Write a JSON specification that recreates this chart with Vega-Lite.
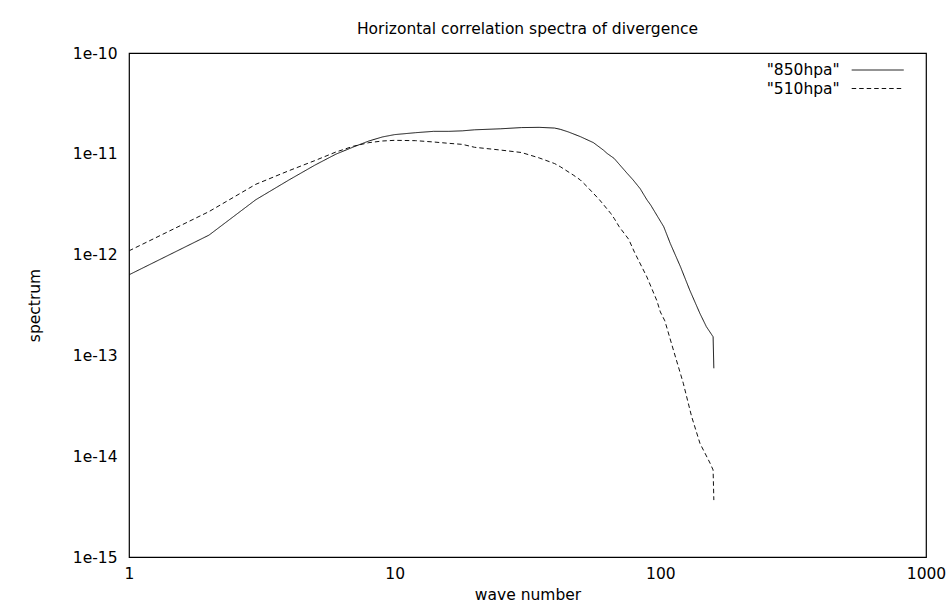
{
  "$schema": "https://vega.github.io/schema/vega-lite/v6.json",
  "width": 797,
  "height": 504,
  "autosize": {"type": "none"},
  "padding": {"left": 129, "top": 53, "right": 24, "bottom": 54},
  "background": "#ffffff",
  "title": {"text": "Horizontal correlation spectra of divergence", "frame": "group", "anchor": "middle", "offset": 9, "font": "DejaVu Sans", "fontSize": 15.5, "fontWeight": "normal", "color": "#000000"},
  "data": {"values": [
    {"k": 1, "v": 6.3e-13, "series": "850hpa"},
    {"k": 2, "v": 1.56e-12, "series": "850hpa"},
    {"k": 3, "v": 3.5e-12, "series": "850hpa"},
    {"k": 4, "v": 5.5e-12, "series": "850hpa"},
    {"k": 5, "v": 7.7e-12, "series": "850hpa"},
    {"k": 6, "v": 9.9e-12, "series": "850hpa"},
    {"k": 7, "v": 1.17e-11, "series": "850hpa"},
    {"k": 8, "v": 1.34e-11, "series": "850hpa"},
    {"k": 9, "v": 1.47e-11, "series": "850hpa"},
    {"k": 10, "v": 1.55e-11, "series": "850hpa"},
    {"k": 12, "v": 1.62e-11, "series": "850hpa"},
    {"k": 14, "v": 1.67e-11, "series": "850hpa"},
    {"k": 16, "v": 1.67e-11, "series": "850hpa"},
    {"k": 18, "v": 1.69e-11, "series": "850hpa"},
    {"k": 20, "v": 1.73e-11, "series": "850hpa"},
    {"k": 25, "v": 1.77e-11, "series": "850hpa"},
    {"k": 30, "v": 1.82e-11, "series": "850hpa"},
    {"k": 35, "v": 1.83e-11, "series": "850hpa"},
    {"k": 40, "v": 1.8e-11, "series": "850hpa"},
    {"k": 42, "v": 1.75e-11, "series": "850hpa"},
    {"k": 45, "v": 1.65e-11, "series": "850hpa"},
    {"k": 50, "v": 1.48e-11, "series": "850hpa"},
    {"k": 56, "v": 1.29e-11, "series": "850hpa"},
    {"k": 61, "v": 1.09e-11, "series": "850hpa"},
    {"k": 63, "v": 1.01e-11, "series": "850hpa"},
    {"k": 67, "v": 9.0e-12, "series": "850hpa"},
    {"k": 75, "v": 6.4e-12, "series": "850hpa"},
    {"k": 79, "v": 5.5e-12, "series": "850hpa"},
    {"k": 84, "v": 4.5e-12, "series": "850hpa"},
    {"k": 89, "v": 3.5e-12, "series": "850hpa"},
    {"k": 92, "v": 3.1e-12, "series": "850hpa"},
    {"k": 103, "v": 1.89e-12, "series": "850hpa"},
    {"k": 109, "v": 1.29e-12, "series": "850hpa"},
    {"k": 119, "v": 7.6e-13, "series": "850hpa"},
    {"k": 129, "v": 4.45e-13, "series": "850hpa"},
    {"k": 141, "v": 2.6e-13, "series": "850hpa"},
    {"k": 149, "v": 1.93e-13, "series": "850hpa"},
    {"k": 158, "v": 1.53e-13, "series": "850hpa"},
    {"k": 159, "v": 7.45e-14, "series": "850hpa"},
    {"k": 1, "v": 1.09e-12, "series": "510hpa"},
    {"k": 2, "v": 2.67e-12, "series": "510hpa"},
    {"k": 3, "v": 4.98e-12, "series": "510hpa"},
    {"k": 4, "v": 6.8e-12, "series": "510hpa"},
    {"k": 5, "v": 8.55e-12, "series": "510hpa"},
    {"k": 6, "v": 1.04e-11, "series": "510hpa"},
    {"k": 7, "v": 1.19e-11, "series": "510hpa"},
    {"k": 8, "v": 1.29e-11, "series": "510hpa"},
    {"k": 9, "v": 1.34e-11, "series": "510hpa"},
    {"k": 10, "v": 1.36e-11, "series": "510hpa"},
    {"k": 12, "v": 1.35e-11, "series": "510hpa"},
    {"k": 14, "v": 1.31e-11, "series": "510hpa"},
    {"k": 16, "v": 1.27e-11, "series": "510hpa"},
    {"k": 18, "v": 1.24e-11, "series": "510hpa"},
    {"k": 20, "v": 1.16e-11, "series": "510hpa"},
    {"k": 25, "v": 1.09e-11, "series": "510hpa"},
    {"k": 30, "v": 1.03e-11, "series": "510hpa"},
    {"k": 35, "v": 9.1e-12, "series": "510hpa"},
    {"k": 40, "v": 8.0e-12, "series": "510hpa"},
    {"k": 42, "v": 7.45e-12, "series": "510hpa"},
    {"k": 47, "v": 6.16e-12, "series": "510hpa"},
    {"k": 50, "v": 5.5e-12, "series": "510hpa"},
    {"k": 53, "v": 4.72e-12, "series": "510hpa"},
    {"k": 59, "v": 3.5e-12, "series": "510hpa"},
    {"k": 65, "v": 2.57e-12, "series": "510hpa"},
    {"k": 67, "v": 2.29e-12, "series": "510hpa"},
    {"k": 70, "v": 1.89e-12, "series": "510hpa"},
    {"k": 76, "v": 1.42e-12, "series": "510hpa"},
    {"k": 80, "v": 1.05e-12, "series": "510hpa"},
    {"k": 89, "v": 6.0e-13, "series": "510hpa"},
    {"k": 97, "v": 3.5e-13, "series": "510hpa"},
    {"k": 100, "v": 2.7e-13, "series": "510hpa"},
    {"k": 104, "v": 2.2e-13, "series": "510hpa"},
    {"k": 112, "v": 1.13e-13, "series": "510hpa"},
    {"k": 122, "v": 5.3e-14, "series": "510hpa"},
    {"k": 131, "v": 2.5e-14, "series": "510hpa"},
    {"k": 141, "v": 1.34e-14, "series": "510hpa"},
    {"k": 154, "v": 8.5e-15, "series": "510hpa"},
    {"k": 158, "v": 7.3e-15, "series": "510hpa"},
    {"k": 159, "v": 3.67e-15, "series": "510hpa"}
  ]},
  "mark": {"type": "line", "color": "#111111", "strokeWidth": 1},
  "encoding": {
    "x": {"field": "k", "type": "quantitative", "scale": {"type": "log", "domain": [1, 1000], "nice": false},
          "axis": {"orient": "bottom", "values": [1, 10, 100, 1000], "format": "d", "ticks": false, "labelPadding": 9, "labelFlush": false, "labelOverlap": false, "title": "wave number", "titlePadding": 6}},
    "y": {"field": "v", "type": "quantitative", "scale": {"type": "log", "domain": [1e-15, 1e-10], "nice": false},
          "axis": {"orient": "left", "values": [1e-15, 1e-14, 1e-13, 1e-12, 1e-11, 1e-10], "labelExpr": "'1e' + round(log(datum.value)/LN10)", "ticks": false, "labelPadding": 12, "labelFlush": false, "labelOverlap": false, "title": "spectrum", "titlePadding": 30}},
    "strokeDash": {"field": "series", "type": "nominal",
                   "scale": {"domain": ["850hpa", "510hpa"], "range": [[1, 0], [4.5, 3]]},
                   "legend": {"title": null, "orient": "none", "legendX": 637.7, "legendY": 9.25, "padding": 0,
                              "symbolType": "M 15.45 0 L 25.85 0", "symbolSize": 100, "symbolStrokeWidth": 1, "symbolStrokeColor": "#111111", "symbolFillColor": "transparent",
                              "rowPadding": 1.5, "symbolOffset": 0,
                              "labelAlign": "left", "labelOffset": -15.5, "labelBaseline": "middle",
                              "labelFont": "DejaVu Sans", "labelFontSize": 15.5, "labelColor": "#000000",
                              "labelExpr": "'\"' + datum.label + '\"'"}}
  },
  "config": {
    "view": {"stroke": "#000000", "strokeWidth": 1.2},
    "axis": {"grid": false, "domain": false,
             "labelFont": "DejaVu Sans", "labelFontSize": 15.5, "labelColor": "#000000",
             "titleFont": "DejaVu Sans", "titleFontSize": 15.5, "titleFontWeight": "normal", "titleColor": "#000000"}
  }
}
